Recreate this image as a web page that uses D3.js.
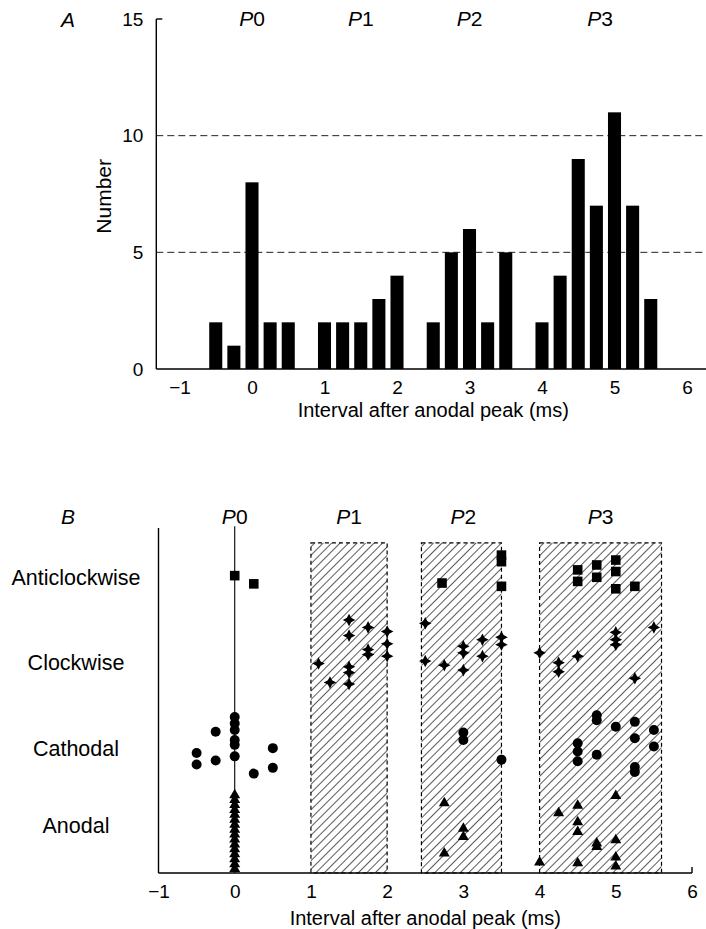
<!DOCTYPE html>
<html>
<head>
<meta charset="utf-8">
<title>Interval after anodal peak</title>
<script src="https://cdn.jsdelivr.net/npm/d3@7"></script>
<style>
  html, body { margin: 0; padding: 0; background: #fff; }
  svg { display: block; font-family: "Liberation Sans", Arial, Helvetica, sans-serif; }
</style>
</head>
<body>
<script>
// A: histogram, 0.25 ms bins
var binCentres = [-0.5, -0.25, 0, 0.25, 0.5, 0.75, 1, 1.25, 1.5, 1.75, 2, 2.25, 2.5, 2.75, 3, 3.25, 3.5, 3.75, 4, 4.25, 4.5, 4.75, 5, 5.25, 5.5];
var binCounts  = [2, 1, 8, 2, 2, 0, 2, 2, 2, 3, 4, 0, 2, 5, 6, 2, 5, 0, 2, 4, 9, 7, 11, 7, 3];
var countTicks = [0, 5, 10, 15];
var msTicks = [-1, 0, 1, 2, 3, 4, 5, 6];
var peakNames = ['0', '1', '2', '3'];
var peakPos = [0, 1.5, 3, 4.8];
var peakWindows = [[1, 2], [2.45, 3.5], [4, 5.6]];

// B: each response as [interval (ms), vertical position in row units]
var categories = ['Anodal', 'Cathodal', 'Clockwise', 'Anticlockwise'];
var categoryPos = [0.58, 1.52, 2.56, 3.6];

var anticlockwise = [
  [0, 3.62], [0.25, 3.52],
  [2.72, 3.53], [3.5, 3.79], [3.5, 3.87], [3.5, 3.49],
  [4.5, 3.69], [4.5, 3.55], [4.75, 3.75], [4.75, 3.6], [5, 3.81], [5, 3.67], [5, 3.46], [5.25, 3.49]
];
var clockwise = [
  [1.1, 2.55], [1.25, 2.32], [1.5, 3.08], [1.5, 2.89], [1.5, 2.51], [1.5, 2.44], [1.5, 2.3],
  [1.75, 2.99], [1.75, 2.72], [1.75, 2.66], [2, 2.94], [2, 2.79], [2, 2.64],
  [2.5, 3.04], [2.5, 2.58], [2.75, 2.53], [3, 2.76], [3, 2.68], [3, 2.47], [3.25, 2.84], [3.25, 2.64], [3.5, 2.87], [3.5, 2.78],
  [4, 2.68], [4.25, 2.56], [4.25, 2.45], [4.5, 2.64], [5, 2.93], [5, 2.84], [5, 2.78], [5.5, 2.99], [5.25, 2.37]
];
var cathodal = [
  [0, 1.9], [0, 1.82], [0, 1.74], [0, 1.62], [0, 1.56], [0, 1.42], [-0.25, 1.72], [-0.5, 1.46], [-0.5, 1.32],
  [-0.25, 1.37], [0.5, 1.52], [0.5, 1.28], [0.25, 1.21],
  [3, 1.71], [3, 1.62], [3.5, 1.38],
  [4.75, 1.92], [4.75, 1.86], [5, 1.78], [5.25, 1.84], [5.25, 1.64], [5.5, 1.74], [5.5, 1.54],
  [4.5, 1.58], [4.5, 1.48], [4.5, 1.36], [4.75, 1.44], [5.25, 1.29], [5.25, 1.23]
];
var anodal = [
  [0, 0.95], [0, 0.89], [0, 0.83], [0, 0.77], [0, 0.71], [0, 0.65], [0, 0.59], [0, 0.53],
  [0, 0.47], [0, 0.41], [0, 0.35], [0, 0.29], [0, 0.23], [0, 0.17], [0, 0.11], [0, 0.05],
  [2.75, 0.85], [3, 0.54], [3, 0.44], [2.75, 0.24],
  [4.25, 0.73], [4.5, 0.82], [4.5, 0.62], [4.5, 0.5], [5, 0.94], [4.75, 0.36], [4.75, 0.32], [5, 0.4],
  [4, 0.13], [4.5, 0.12], [5, 0.19], [5, 0.08]
];

var width = 706, height = 929;
var svg = d3.select('body').append('svg').attr('width', width).attr('height', height);

// 4 pointed star for the clockwise responses
var star4 = {
  draw: function(ctx, size) {
    var r = Math.sqrt(size) * 0.55, ri = r * 0.48;
    for (var i = 0; i < 8; i++) {
      var a = i * Math.PI / 4 - Math.PI / 2, rr = i % 2 ? ri : r;
      if (i === 0) ctx.moveTo(rr * Math.cos(a), rr * Math.sin(a));
      else ctx.lineTo(rr * Math.cos(a), rr * Math.sin(a));
    }
    ctx.closePath();
  }
};

// hatching
svg.append('defs').append('pattern')
  .attr('id', 'hatch').attr('patternUnits', 'userSpaceOnUse')
  .attr('width', 6).attr('height', 6).attr('patternTransform', 'rotate(45)')
  .append('line').attr('x1', 0).attr('y1', 0).attr('x2', 0).attr('y2', 6)
  .attr('stroke', '#000').attr('stroke-width', 1.3);

function peakLabels(g, x, y) {
  var t = g.selectAll('.peak').data(peakNames).enter().append('text')
    .attr('class', 'peak')
    .attr('x', function(d, i) { return x(peakPos[i]); })
    .attr('y', y).attr('text-anchor', 'middle').attr('font-size', 21);
  t.append('tspan').attr('font-style', 'italic').text('P');
  t.append('tspan').text(function(d) { return d; });
}

// ---------- panel A ----------
var xA = d3.scaleLinear().domain([-1, 6]).range([179.5, 687]);
var yA = d3.scaleLinear().domain([0, 15]).range([369, 19]);
var gA = svg.append('g');
var axisLeftA = xA(-1.32);

gA.append('text').attr('x', 68).attr('y', 27).attr('font-size', 21).attr('font-style', 'italic').attr('text-anchor', 'middle').text('A');
peakLabels(gA, xA, 26);

gA.selectAll('.grid').data([5, 10]).enter().append('line')
  .attr('x1', axisLeftA).attr('x2', width)
  .attr('y1', function(d) { return yA(d); }).attr('y2', function(d) { return yA(d); })
  .attr('stroke', '#222').attr('stroke-width', 1).attr('stroke-dasharray', '7,4');

gA.selectAll('.bar').data(binCounts).enter().append('rect')
  .attr('x', function(d, i) { return xA(binCentres[i] - 0.09); })
  .attr('width', xA(0.18) - xA(0))
  .attr('y', function(d) { return yA(d); })
  .attr('height', function(d) { return yA(0) - yA(d); })
  .attr('fill', '#000');

gA.append('line').attr('x1', axisLeftA).attr('x2', axisLeftA).attr('y1', yA(0)).attr('y2', yA(15)).attr('stroke', '#000').attr('stroke-width', 1.4);
gA.append('line').attr('x1', axisLeftA).attr('x2', axisLeftA + 6).attr('y1', yA(15)).attr('y2', yA(15)).attr('stroke', '#000').attr('stroke-width', 1.4);
gA.append('line').attr('x1', axisLeftA).attr('x2', width).attr('y1', yA(0)).attr('y2', yA(0)).attr('stroke', '#000').attr('stroke-width', 1.4);

gA.append('g').attr('transform', 'translate(' + axisLeftA + ',0)')
  .call(d3.axisLeft(yA).tickValues(countTicks).tickSize(0).tickPadding(13))
  .call(function(g) { g.select('.domain').remove(); })
  .attr('font-size', 19).attr('font-family', null);

gA.append('g').attr('transform', 'translate(0,' + yA(0) + ')')
  .call(d3.axisBottom(xA).tickValues(msTicks).tickSize(0).tickPadding(12).tickFormat(d3.format('d')))
  .call(function(g) { g.select('.domain').remove(); })
  .attr('font-size', 19).attr('font-family', null);

gA.append('text').attr('transform', 'translate(111,' + yA(7.4) + ') rotate(-90)')
  .attr('text-anchor', 'middle').attr('font-size', 21).text('Number');
gA.append('text').attr('x', xA(2.5)).attr('y', 417).attr('text-anchor', 'middle').attr('font-size', 20)
  .text('Interval after anodal peak (ms)');

// ---------- panel B ----------
var xB = d3.scaleLinear().domain([-1, 6]).range([158.5, 692]);
var yB = d3.scaleLinear().domain([0, 4.2]).range([873, 528]);
var gB = svg.append('g');

gB.append('text').attr('x', 68).attr('y', 524).attr('font-size', 21).attr('font-style', 'italic').attr('text-anchor', 'middle').text('B');
peakLabels(gB, xB, 524);

gB.selectAll('.window').data(peakWindows).enter().append('rect')
  .attr('x', function(d) { return xB(d[0]); })
  .attr('width', function(d) { return xB(d[1]) - xB(d[0]); })
  .attr('y', yB(4.02)).attr('height', yB(0) - yB(4.02))
  .attr('fill', 'url(#hatch)').attr('stroke', '#000').attr('stroke-width', 1.2).attr('stroke-dasharray', '4,3');

gB.append('line').attr('x1', xB(0)).attr('x2', xB(0)).attr('y1', yB(0)).attr('y2', yB(4.22)).attr('stroke', '#000').attr('stroke-width', 1.1);

gB.selectAll('.cat').data(categories).enter().append('text')
  .attr('x', 76).attr('y', function(d, i) { return yB(categoryPos[i]); })
  .attr('dy', '0.35em').attr('text-anchor', 'middle').attr('font-size', 21.5)
  .text(function(d) { return d; });

function drawPoints(data, type, size) {
  gB.append('g').selectAll('path').data(data).enter().append('path')
    .attr('transform', function(d) { return 'translate(' + xB(d[0]) + ',' + yB(d[1]) + ')'; })
    .attr('d', d3.symbol().type(type).size(size))
    .attr('fill', '#000');
}
drawPoints(anodal, d3.symbolTriangle, 52);
drawPoints(cathodal, d3.symbolCircle, 78);
drawPoints(clockwise, star4, 130);
drawPoints(anticlockwise, d3.symbolSquare, 92);

gB.append('line').attr('x1', xB(-1)).attr('x2', xB(-1)).attr('y1', yB(0)).attr('y2', yB(4.2)).attr('stroke', '#000').attr('stroke-width', 1.4);
gB.append('line').attr('x1', xB(-1)).attr('x2', xB(6)).attr('y1', yB(0)).attr('y2', yB(0)).attr('stroke', '#000').attr('stroke-width', 1.4);
gB.append('line').attr('x1', xB(6)).attr('x2', xB(6)).attr('y1', yB(0)).attr('y2', yB(0) - 6).attr('stroke', '#000').attr('stroke-width', 1.4);

gB.append('g').attr('transform', 'translate(0,' + yB(0) + ')')
  .call(d3.axisBottom(xB).tickValues(msTicks).tickSize(0).tickPadding(12).tickFormat(d3.format('d')))
  .call(function(g) { g.select('.domain').remove(); })
  .attr('font-size', 19).attr('font-family', null);

gB.append('text').attr('x', xB(2.5)).attr('y', 925).attr('text-anchor', 'middle').attr('font-size', 20)
  .text('Interval after anodal peak (ms)');
</script>
</body>
</html>
